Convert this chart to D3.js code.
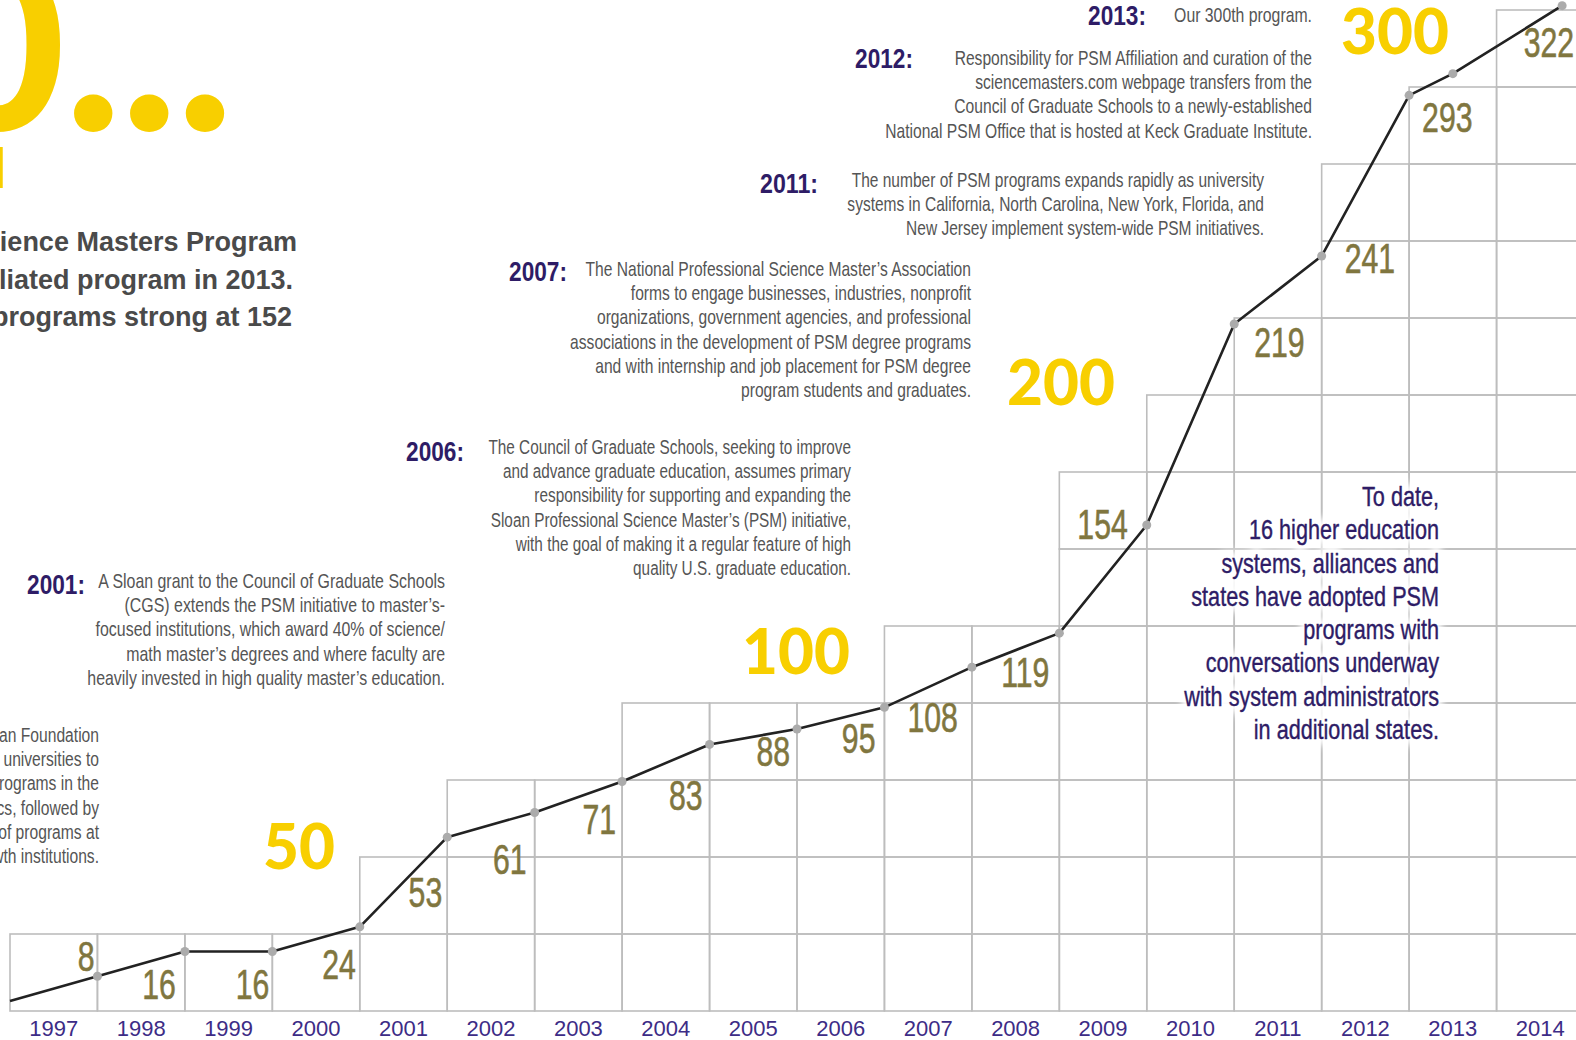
<!DOCTYPE html>
<meta charset="UTF-8">
<script src="https://cdnjs.cloudflare.com/ajax/libs/d3/7.8.5/d3.min.js"></script>
<style>
    body { margin: 0; background: #fff; }
    svg { display: block; }
</style>
<svg id="chart" width="1576" height="1040"></svg>
<script>
    // PSM programs affiliated (count at the end of each year, plus the 300th and the latest count)
    let dates = [1997, 1998, 1999, 2000, 2001, 2002, 2003, 2004, 2005, 2006, 2007, 2008, 2009, 2010, 2011, 2012, 2013, 2013.5, 2014.75];
    let programs = [0, 8, 16, 16, 24, 53, 61, 71, 83, 88, 95, 108, 119, 154, 219, 241, 293, 300, 322];
    let years = [1997, 1998, 1999, 2000, 2001, 2002, 2003, 2004, 2005, 2006, 2007, 2008, 2009, 2010, 2011, 2012, 2013, 2014];
    // staircase of the background grid (rows per year column)
    let stepRows = [1, 1, 1, 1, 2, 3, 3, 4, 4, 4, 5, 5, 7, 8, 9, 11, 12, 13];
    let milestones = ["50", "100", "200", "300"];

    // hand placement of the value labels: [dx, dy, anchor]
    let labelNudge = [null, [-3, -5, "end"], [-9, 47, "end"], [-3, 47, "end"], [-4, 52, "end"], [-5, 70, "end"],
        [-8, 62, "end"], [-6, 52, "end"], [-7, 66, "end"], [-7, 37, "end"], [-9, 46, "end"], [-14, 65, "end"],
        [-10, 54, "end"], [-19, 14, "end"], [20, 33, "start"], [23, 17, "start"], [13, 37, "start"], null, [12, 51, "end"]];
    let milestoneAt = [[299, 869], [796, 674], [1061, 405], [1395, 54]];

    let notes = [
        {head: "2013:", hx: 1146, hy: 25, x: 1312, y: 22, w: 138, lines: ["Our 300th program."]},
        {head: "2012:", hx: 913, hy: 68, x: 1312, y: 65, w: 427, lines: [
            "Responsibility for PSM Affiliation and curation of the",
            "sciencemasters.com webpage transfers from the",
            "Council of Graduate Schools to a newly-established",
            "National PSM Office that is hosted at Keck Graduate Institute."]},
        {head: "2011:", hx: 818, hy: 193, x: 1264, y: 187, w: 417, lines: [
            "The number of PSM programs expands rapidly as university",
            "systems in California, North Carolina, New York, Florida, and",
            "New Jersey implement system-wide PSM initiatives."]},
        {head: "2007:", hx: 567, hy: 281, x: 971, y: 276, w: 401, lines: [
            "The National Professional Science Master\u2019s Association",
            "forms to engage businesses, industries, nonprofit",
            "organizations, government agencies, and professional",
            "associations in the development of PSM degree programs",
            "and with internship and job placement for PSM degree",
            "program students and graduates."]},
        {head: "2006:", hx: 464, hy: 461, x: 851, y: 454, w: 363, lines: [
            "The Council of Graduate Schools, seeking to improve",
            "and advance graduate education, assumes primary",
            "responsibility for supporting and expanding the",
            "Sloan Professional Science Master\u2019s (PSM) initiative,",
            "with the goal of making it a regular feature of high",
            "quality U.S. graduate education."]},
        {head: "2001:", hx: 85, hy: 594, x: 445, y: 588, w: 358, lines: [
            "A Sloan grant to the Council of Graduate Schools",
            "(CGS) extends the PSM initiative to master\u2019s-",
            "focused institutions, which award 40% of science/",
            "math master\u2019s degrees and where faculty are",
            "heavily invested in high quality master\u2019s education."]},
        {head: null, x: 99, y: 742, w: null, lines: [
            "In 1997, the Alfred P. Sloan Foundation",
            "began funding a group of universities to",
            "establish pilot PSM programs in the",
            "natural sciences and mathematics, followed by",
            "a rapid growth in the number of programs at",
            "both research and growth institutions."]}
    ];
    let boxLines = ["To date,", "16 higher education", "systems, alliances and", "states have adopted PSM",
        "programs with", "conversations underway", "with system administrators", "in additional states."];
    let introLines = ["The Professional Science Masters Program", "celebrated its 300th affiliated program in 2013.",
        "and continues with programs strong at 152"];

    const svg = d3.select("#chart");
    const narrow = "'Liberation Sans Narrow', 'Liberation Sans', Arial, sans-serif";
    const gold = "#f8cf00", olive = "#80763f", purple = "#2e1c66", greyText = "#555";

    let defs = svg.append("defs");
    defs.append("filter").attr("id", "glow").attr("x", "-20%").attr("y", "-20%").attr("width", "140%").attr("height", "140%")
        .append("feGaussianBlur").attr("stdDeviation", 4);

    let x = d3.scaleLinear().domain([1997, 2015]).range([10, 1584]);
    let y = d3.scaleLinear().domain([0, 325]).range([1001, -3.6]);
    let row = d3.scaleLinear().domain([0, 13]).range([1011, 10]);

    // staircase grid
    let cells = [];
    years.forEach(function (yr, i) {
        for (let r = 0; r < stepRows[i]; r++) cells.push({yr: yr, r: r});
    });
    svg.append("g")
        .selectAll("rect")
        .data(cells)
        .enter().append("rect")
        .attr("x", d => x(d.yr))
        .attr("y", d => row(d.r + 1))
        .attr("width", d => x(d.yr + 1) - x(d.yr))
        .attr("height", d => row(d.r) - row(d.r + 1))
        .style("fill", "none")
        .style("stroke", "#bdbdbd")
        .style("stroke-width", 1.6);

    // year labels under each column
    svg.append("g")
        .selectAll("text")
        .data(years)
        .enter().append("text")
        .attr("x", d => (x(d) + x(d + 1)) / 2)
        .attr("y", 1036)
        .style("font-family", "'Liberation Sans', Arial, sans-serif")
        .style("font-size", "22px")
        .style("text-anchor", "middle")
        .style("fill", "#3d2c86")
        .text(d => d);

    // big yellow title fragment, top left
    svg.append("text")
        .attr("x", 233).attr("y", 130)
        .style("font-family", "Lato, 'Open Sans', sans-serif")
        .style("font-weight", 900)
        .style("font-size", "235px")
        .style("text-anchor", "end")
        .style("fill", gold)
        .text("300...");
    svg.append("text")
        .attr("x", 6).attr("y", 188)
        .style("font-family", "Lato, sans-serif")
        .style("font-weight", 900)
        .style("font-size", "56px")
        .style("text-anchor", "end")
        .style("fill", gold)
        .text("PSM growth l");

    svg.append("g")
        .selectAll("text")
        .data(introLines)
        .enter().append("text")
        .attr("x", (d, i) => [297, 293, 292][i])
        .attr("y", (d, i) => 251 + i * 37.5)
        .style("font-family", "'Liberation Sans', Arial, sans-serif")
        .style("font-weight", "bold")
        .style("font-size", "27px")
        .style("text-anchor", "end")
        .style("fill", "#4a4a4a")
        .text(d => d);

    // milestone numbers
    svg.append("g")
        .selectAll("text")
        .data(milestones)
        .enter().append("text")
        .attr("x", (d, i) => milestoneAt[i][0])
        .attr("y", (d, i) => milestoneAt[i][1])
        .style("font-family", "Lato, 'Open Sans', sans-serif")
        .style("font-weight", 900)
        .style("font-size", "62px")
        .style("text-anchor", "middle")
        .style("fill", gold)
        .text(d => d);

    // timeline notes, condensed and right aligned
    let fitted = [];
    notes.forEach(function (n) {
        let g = svg.append("g").attr("transform", "translate(" + n.x + "," + n.y + ")");
        let inner = g.append("g");
        inner.selectAll("text")
            .data(n.lines)
            .enter().append("text")
            .attr("x", 0)
            .attr("y", (d, i) => i * 24.2)
            .style("font-family", narrow)
            .style("font-size", "20px")
            .style("text-anchor", "end")
            .style("fill", greyText)
            .text(d => d);
        let widest = d3.max(inner.selectAll("text").nodes(), t => t.getComputedTextLength());
        fitted.push({inner: inner, widest: widest, n: n});
        if (n.head) {
            let h = svg.append("g").attr("transform", "translate(" + n.hx + "," + n.hy + ")")
                .append("g");
            let ht = h.append("text")
                .style("font-family", narrow)
                .style("font-weight", "bold")
                .style("font-size", "28px")
                .style("text-anchor", "end")
                .style("fill", purple)
                .text(n.head);
            h.attr("transform", "scale(" + (58 / ht.node().getComputedTextLength()) + ",1)");
        }
    });
    let meanScale = d3.mean(fitted.filter(f => f.n.w), f => f.n.w / f.widest);
    fitted.forEach(function (f) {
        let s = f.n.w ? f.n.w / f.widest : meanScale;
        f.inner.attr("transform", "scale(" + s + ",1)");
    });

    // "To date" box, with a white glow behind
    let box = svg.append("g").attr("transform", "translate(1439,506)");
    let boxInner = box.append("g");
    ["halo", "ink"].forEach(function (layer) {
        boxInner.append("g")
            .attr("filter", layer === "halo" ? "url(#glow)" : null)
            .selectAll("text")
            .data(boxLines)
            .enter().append("text")
            .attr("x", 0)
            .attr("y", (d, i) => i * 33.3)
            .style("font-family", narrow)
            .style("font-size", "27px")
            .style("text-anchor", "end")
            .style("fill", layer === "halo" ? "#fff" : purple)
            .style("stroke", layer === "halo" ? "#fff" : purple)
            .style("stroke-width", layer === "halo" ? 12 : 0.4)
            .style("stroke-linejoin", "round")
            .text(d => d);
    });
    let boxWidest = d3.max(boxInner.selectAll("text").nodes(), t => t.getComputedTextLength());
    boxInner.attr("transform", "scale(" + (255 / boxWidest) + ",1)");

    // the growth line
    let idx = d3.range(programs.length);
    let line = d3.line()
        .x(i => x(dates[i]))
        .y(i => y(programs[i]));
    svg.append("path")
        .datum(idx)
        .attr("d", line)
        .style("fill", "none")
        .style("stroke", "#222")
        .style("stroke-width", 2.6)
        .style("stroke-linejoin", "round");

    svg.append("g")
        .selectAll("circle")
        .data(idx.slice(1))
        .enter().append("circle")
        .attr("cx", i => x(dates[i]))
        .attr("cy", i => y(programs[i]))
        .attr("r", 4.5)
        .style("fill", "#ababab");

    // value labels
    let lab = svg.append("g")
        .selectAll("g")
        .data(idx.filter(i => labelNudge[i]))
        .enter().append("g")
        .attr("transform", i => "translate(" + (x(dates[i]) + labelNudge[i][0]) + "," + (y(programs[i]) + labelNudge[i][1]) + ") scale(0.72,1)");
    lab.append("text")
        .style("font-family", narrow)
        .style("font-size", "42px")
        .style("text-anchor", i => labelNudge[i][2])
        .style("fill", olive)
        .style("stroke", olive)
        .style("stroke-width", 0.6)
        .text(i => programs[i]);
</script>
